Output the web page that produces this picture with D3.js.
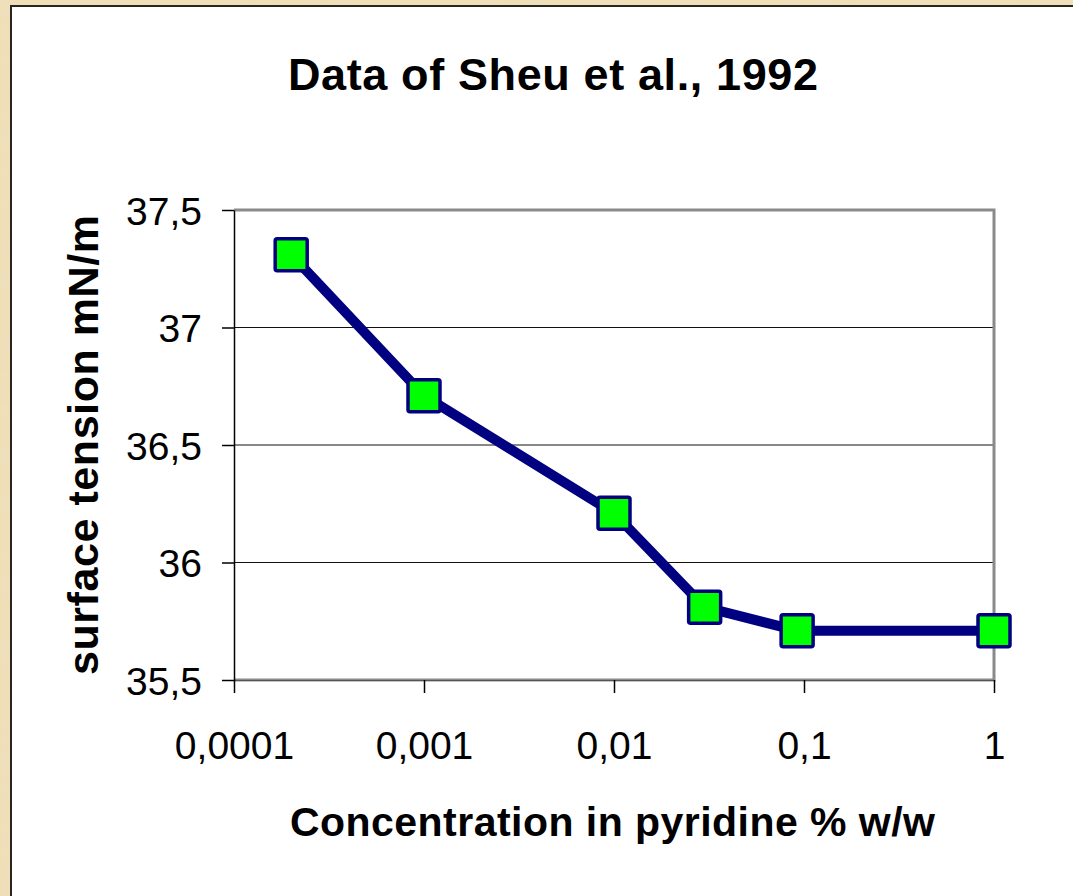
<!DOCTYPE html>
<html>
<head>
<meta charset="utf-8">
<script src="https://cdn.jsdelivr.net/npm/d3@7"></script>
<style>
  html, body { margin: 0; padding: 0; background: #eedcb0; }
  svg { display: block; font-family: "Liberation Sans", Arial, sans-serif; }
</style>
</head>
<body>
<svg width="1073" height="896"></svg>
<script>
// data
const concentration = [0.0002, 0.001, 0.01, 0.03, 0.092, 1]
const tension = [37.31, 36.71, 36.21, 35.81, 35.71, 35.71]
const xTicks = [0.0001, 0.001, 0.01, 0.1, 1]
const yTicks = [35.5, 36, 36.5, 37, 37.5]
const titleText = "Data of Sheu et al., 1992"
const xLabel = "Concentration in pyridine % w/w"
const yLabel = "surface tension mN/m"

var svg = d3.select("svg")
var pLeft = 234, pRight = 994, pTop = 210, pBottom = 680

const comma = d3.formatLocale({decimal: ",", thousands: ".", grouping: [3], currency: ["", ""]})
const fmt = comma.format("~g")

const xScale = d3.scaleLog().domain([0.0001, 1]).range([pLeft, pRight])
const yScale = d3.scaleLinear().domain([35.5, 37.5]).range([pBottom, pTop])

// parchment background
const defs = svg.append("defs")
const f = defs.append("filter").attr("id", "paper")
f.append("feTurbulence").attr("type", "fractalNoise").attr("baseFrequency", 0.08).attr("numOctaves", 3).attr("seed", 4)
f.append("feColorMatrix").attr("type", "matrix")
  .attr("values", "0 0 0 0 0.85  0 0 0 0 0.75  0 0 0 0 0.55  0 0 0 -1.2 1.1")
svg.append("rect").attr("width", 1073).attr("height", 896).attr("fill", "#efdfb6")
svg.append("rect").attr("width", 1073).attr("height", 896).attr("filter", "url(#paper)").attr("opacity", 0.5)

// white chart sheet
svg.append("rect")
  .attr("x", 11).attr("y", 6).attr("width", 1080).attr("height", 900)
  .attr("fill", "white").attr("stroke", "#2a2520").attr("stroke-width", 2)

// gridlines
svg.append("g").selectAll("line")
  .data(yTicks.slice(1, -1))
  .join("line")
  .attr("x1", pLeft).attr("x2", pRight)
  .attr("y1", d => yScale(d)).attr("y2", d => yScale(d))
  .attr("stroke", "#111").attr("stroke-width", 1)

// plot frame (top, right, bottom gray)
svg.append("path")
  .attr("d", `M${pLeft},${pTop}H${pRight}V${pBottom}H${pLeft}`)
  .attr("fill", "none").attr("stroke", "#8a8a8a").attr("stroke-width", 3)

// axes
const xAxis = d3.axisBottom(xScale).tickValues(xTicks).tickFormat(fmt).tickSize(13).tickSizeOuter(0)
const yAxis = d3.axisLeft(yScale).tickValues(yTicks).tickFormat(fmt).tickSize(12).tickSizeOuter(0).tickPadding(20)

const gx = svg.append("g").attr("transform", `translate(0,${pBottom})`).call(xAxis)
gx.select(".domain").attr("stroke", "#555").attr("stroke-width", 1)
gx.selectAll(".tick line").attr("stroke", "#000").attr("stroke-width", 1.5)
gx.selectAll(".tick text")
  .attr("font-size", 39).attr("fill", "#000")
  .attr("font-family", "Liberation Sans, Arial, sans-serif")
  .attr("dy", 0).attr("y", 79)

const gy = svg.append("g").attr("transform", `translate(${pLeft},0)`).call(yAxis)
gy.select(".domain").attr("stroke", "#000").attr("stroke-width", 1.5)
gy.selectAll(".tick line").attr("stroke", "#000").attr("stroke-width", 1.5)
gy.selectAll(".tick text")
  .attr("font-size", 39).attr("fill", "#000")
  .attr("font-family", "Liberation Sans, Arial, sans-serif")
  .attr("dy", "0.36em")

// line
const pts = concentration.map((c, i) => [c, tension[i]])
const line = d3.line().x(d => xScale(d[0])).y(d => yScale(d[1]))
svg.append("path")
  .datum(pts)
  .attr("d", line)
  .attr("fill", "none")
  .attr("stroke", "#000080")
  .attr("stroke-width", 10)
  .attr("stroke-linejoin", "round")

// markers
const s = 32
svg.append("g").selectAll("rect")
  .data(pts)
  .join("rect")
  .attr("x", d => xScale(d[0]) - s / 2)
  .attr("y", d => yScale(d[1]) - s / 2)
  .attr("width", s).attr("height", s)
  .attr("rx", 2)
  .attr("fill", "#00ff00")
  .attr("stroke", "#000080").attr("stroke-width", 3.5)

// titles
svg.append("text")
  .attr("x", 288).attr("y", 90)
  .attr("font-size", 45).attr("font-weight", "bold")
  .attr("textLength", 530).attr("lengthAdjust", "spacing")
  .text(titleText)

svg.append("text")
  .attr("x", 290).attr("y", 836)
  .attr("font-size", 41).attr("font-weight", "bold")
  .attr("textLength", 645).attr("lengthAdjust", "spacing")
  .text(xLabel)

svg.append("text")
  .attr("transform", "translate(98,675) rotate(-90)")
  .attr("font-size", 43).attr("font-weight", "bold")
  .attr("textLength", 460).attr("lengthAdjust", "spacing")
  .text(yLabel)
</script>
</body>
</html>
